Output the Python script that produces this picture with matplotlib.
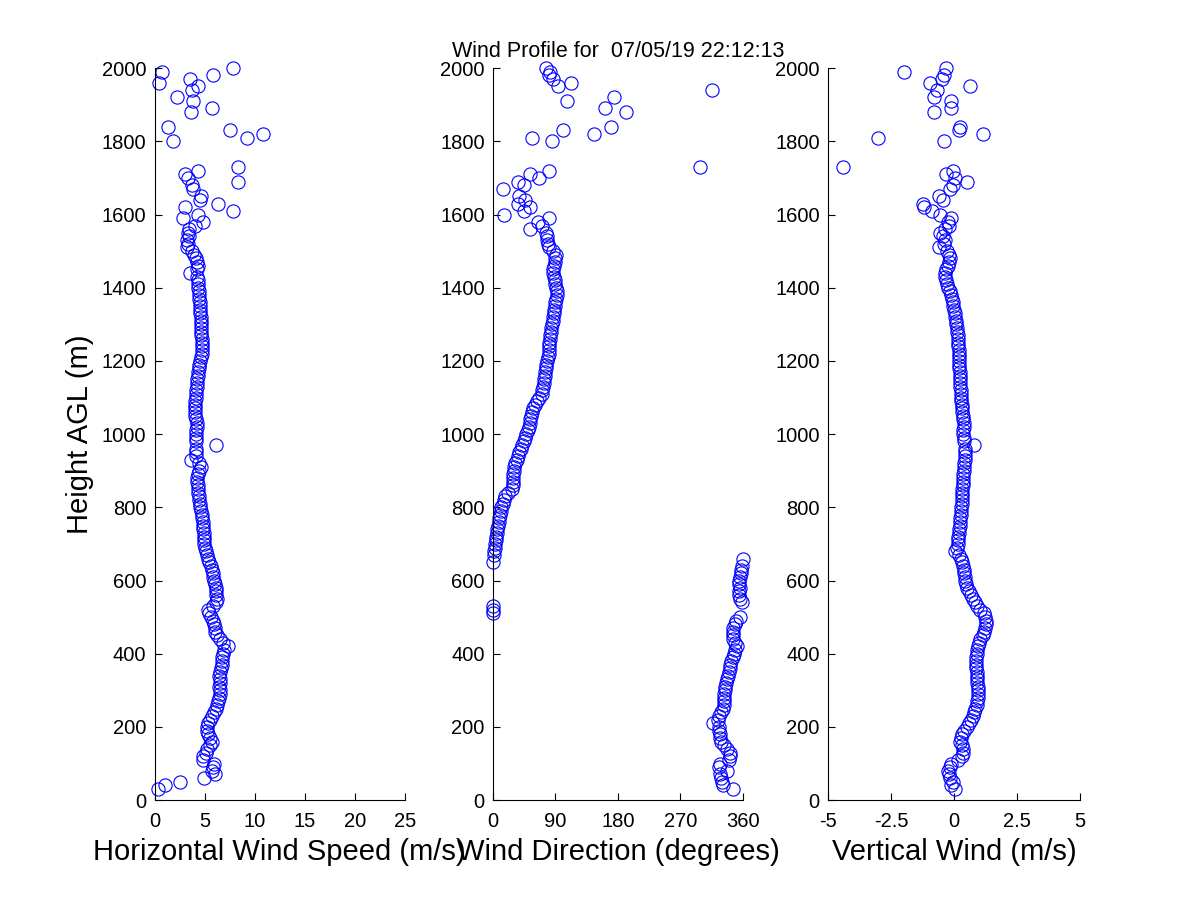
import matplotlib
matplotlib.use("Agg")
import matplotlib.pyplot as plt

plt.rcParams['font.family'] = ['Liberation Sans', 'DejaVu Sans']

# heights (m AGL) of the valid range gates
height = [30, 40, 50, 60, 70, 80, 90, 100, 110, 120,
          130, 140, 150, 160, 170, 180, 190, 200, 210, 220,
          230, 240, 250, 260, 270, 280, 290, 300, 310, 320,
          330, 340, 350, 360, 370, 380, 390, 400, 410, 420,
          430, 440, 450, 460, 470, 480, 490, 500, 510, 520,
          530, 540, 550, 560, 570, 580, 590, 600, 610, 620,
          630, 640, 650, 660, 670, 680, 690, 700, 710, 720,
          730, 740, 750, 760, 770, 780, 790, 800, 810, 820,
          830, 840, 850, 860, 870, 880, 890, 900, 910, 920,
          930, 940, 950, 960, 970, 980, 990, 1000, 1010, 1020,
          1030, 1040, 1050, 1060, 1070, 1080, 1090, 1100, 1110, 1120,
          1130, 1140, 1150, 1160, 1170, 1180, 1190, 1200, 1210, 1220,
          1230, 1240, 1250, 1260, 1270, 1280, 1290, 1300, 1310, 1320,
          1330, 1340, 1350, 1360, 1370, 1380, 1390, 1400, 1410, 1420,
          1430, 1440, 1450, 1460, 1470, 1480, 1490, 1500,
          1510, 1520, 1530, 1540, 1550, 1560, 1570, 1580, 1590, 1600,
          1610, 1620, 1630, 1640, 1650, 1670, 1680, 1690, 1700, 1710, 1720, 1730,
          1800, 1810, 1820, 1830, 1840, 1880, 1890, 1910, 1920, 1940,
          1950, 1960, 1970, 1980, 1990, 2000]

# horizontal wind speed (m/s)
speed = [0.3, 1.0, 2.5, 4.9, 6.0, 5.7, 5.8, 5.9, 4.8, 4.8,
         5.1, 5.2, 5.5, 5.7, 5.5, 5.3, 5.2, 5.2, 5.3, 5.5,
         5.7, 5.9, 6.1, 6.2, 6.3, 6.4, 6.5, 6.5, 6.4, 6.5,
         6.5, 6.4, 6.5, 6.6, 6.7, 6.7, 6.7, 6.8, 6.9, 7.3,
         6.8, 6.5, 6.2, 6.0, 6.0, 5.9, 5.8, 5.6, 5.4, 5.3,
         5.8, 6.1, 6.2, 6.1, 6.1, 6.1, 6.0, 5.9, 5.8, 5.8,
         5.7, 5.6, 5.4, 5.3, 5.2, 5.1, 5.0, 4.9, 4.9, 4.9,
         4.9, 4.8, 4.8, 4.8, 4.7, 4.7, 4.6, 4.5, 4.5, 4.4,
         4.4, 4.3, 4.3, 4.3, 4.2, 4.2, 4.3, 4.4, 4.6, 4.4,
         3.6, 4.1, 4.1, 4.1, 6.1, 4.1, 4.1, 4.1, 4.1, 4.2,
         4.2, 4.1, 4.0, 4.0, 4.0, 4.0, 4.0, 4.1, 4.1, 4.1,
         4.2, 4.2, 4.2, 4.3, 4.3, 4.4, 4.4, 4.5, 4.6, 4.7,
         4.7, 4.7, 4.7, 4.7, 4.6, 4.6, 4.6, 4.6, 4.6, 4.6,
         4.5, 4.5, 4.5, 4.5, 4.4, 4.4, 4.4, 4.3, 4.3, 4.3,
         4.2, 3.5, 4.2, 4.3, 4.2, 4.1, 3.9, 3.7,
         3.2, 3.3, 3.2, 3.4, 3.3, 3.4, 4.0, 4.8, 2.8, 4.3,
         7.8, 3.0, 6.3, 4.5, 4.6, 3.8, 3.7, 8.3, 3.3, 3.0, 4.3, 8.3,
         1.8, 9.2, 10.8, 7.5, 1.3, 3.6, 5.7, 3.8, 2.2, 3.7,
         4.3, 0.4, 3.5, 5.8, 0.7, 7.8]

# wind direction (degrees)
direction = [346, 332, 330, 329, 327, 337, 326, 327, 340, 341,
             341, 337, 333, 328, 327, 327, 326, 325, 317, 324,
             325, 328, 331, 333, 333, 333, 333, 334, 334, 335,
             337, 339, 340, 341, 342, 343, 345, 347, 349, 351,
             348, 346, 345, 345, 346, 348, 350, 356, 0.5, 0.5,
             0.5, 359, 356, 355, 355, 356, 355, 355, 356, 357,
             357, 358, 0.5, 359.5, 1, 1.5, 2.5, 3, 4, 5,
             5.5, 6.5, 7, 8, 9, 10, 11, 12, 14, 16,
             18, 22, 28, 29, 29, 29, 29, 30, 30, 32,
             34, 36, 38, 40, 42, 44, 46, 48, 50, 52,
             53, 54, 55, 56, 58, 60, 64, 67, 70, 71,
             72, 73, 74, 75, 75, 76, 77, 78, 79, 80,
             80, 81, 81, 82, 82, 83, 84, 85, 86, 87,
             88, 88, 89, 90, 91, 92, 92, 91, 90, 89,
             88, 87, 87, 88, 89, 90, 91, 87,
             80, 79, 78, 78, 76, 53, 70, 65, 80, 16,
             45, 53, 36, 46, 38, 14, 44, 36, 67, 54, 80, 298,
             85, 56, 145, 101, 170, 191, 161, 106, 175, 316,
             94, 113, 86, 80, 82, 76]

# vertical wind (m/s)
vertical = [0.04, -0.1, -0.05, -0.16, -0.2, -0.22, -0.15, -0.1, 0.15, 0.3,
            0.35, 0.37, 0.3, 0.24, 0.27, 0.3, 0.4, 0.5, 0.58, 0.67,
            0.74, 0.8, 0.85, 0.9, 0.92, 0.95, 0.96, 0.96, 0.94, 0.92,
            0.91, 0.9, 0.9, 0.88, 0.86, 0.87, 0.88, 0.9, 0.93, 0.97,
            1.0, 1.05, 1.14, 1.18, 1.23, 1.25, 1.25, 1.24, 1.2, 1.03,
            0.92, 0.83, 0.76, 0.68, 0.6, 0.53, 0.48, 0.44, 0.42, 0.4,
            0.38, 0.36, 0.32, 0.26, 0.18, 0.04, 0.12, 0.17, 0.17, 0.17,
            0.18, 0.2, 0.22, 0.24, 0.25, 0.26, 0.27, 0.28, 0.3, 0.3,
            0.31, 0.32, 0.33, 0.35, 0.35, 0.36, 0.37, 0.38, 0.4, 0.41,
            0.42, 0.44, 0.44, 0.42, 0.8, 0.4, 0.38, 0.37, 0.37, 0.38,
            0.38, 0.36, 0.34, 0.32, 0.31, 0.3, 0.29, 0.28, 0.27, 0.26,
            0.25, 0.24, 0.23, 0.22, 0.22, 0.21, 0.21, 0.2, 0.19, 0.18,
            0.18, 0.17, 0.16, 0.15, 0.14, 0.12, 0.1, 0.08, 0.06, 0.04,
            0.02, 0.0, -0.02, -0.04, -0.07, -0.11, -0.16, -0.22, -0.27, -0.3,
            -0.34, -0.36, -0.3, -0.24, -0.2, -0.16, -0.2, -0.29,
            -0.58, -0.4, -0.36, -0.45, -0.56, -0.35, -0.2, -0.22, -0.1, -0.56,
            -0.88, -1.2, -1.24, -0.42, -0.6, -0.16, -0.03, 0.5, 0.04, -0.3, -0.03, -4.42,
            -0.4, -3.0, 1.16, 0.21, 0.25, -0.8, -0.1, -0.13, -0.8, -0.66,
            0.63, -0.95, -0.49, -0.4, -2.0, -0.3]

speed_ticks = [0, 5, 10, 15, 20, 25]
dir_ticks = [0, 90, 180, 270, 360]
vert_ticks = [-5, -2.5, 0, 2.5, 5]
vert_labels = ['-5', '-2.5', '0', '2.5', '5']
height_ticks = list(range(0, 2001, 200))

fig = plt.figure(figsize=(12, 9), dpi=100)

panels = [
    ([0.129, 0.111, 0.2083, 0.8133], speed, (0, 25), speed_ticks, None,
     'Horizontal Wind Speed (m/s)'),
    ([0.4108, 0.111, 0.2083, 0.8133], direction, (0, 360), dir_ticks, None,
     'Wind Direction (degrees)'),
    ([0.69, 0.111, 0.21, 0.8133], vertical, (-5, 5), vert_ticks, vert_labels,
     'Vertical Wind (m/s)'),
]

axes = []
for rect, vals, xlim, xt, xtl, xlabel in panels:
    ax = fig.add_axes(rect)
    ax.plot(vals, height, linestyle='none', marker='o', markersize=9.5,
            markerfacecolor='none', markeredgecolor='#0000ff',
            markeredgewidth=0.8, clip_on=False)
    ax.set_xlim(*xlim)
    ax.set_ylim(0, 2000)
    ax.set_xticks(xt)
    if xtl:
        ax.set_xticklabels(xtl)
    ax.set_yticks(height_ticks)
    ax.spines['top'].set_visible(False)
    ax.spines['right'].set_visible(False)
    ax.tick_params(direction='in', length=5, width=0.8, labelsize=14.5)
    ax.tick_params(axis='x', pad=8.5)
    ax.tick_params(axis='y', pad=6)
    ax.set_xlabel(xlabel, fontsize=21, labelpad=5)
    axes.append(ax)

axes[0].set_ylabel('Height AGL (m)', fontsize=21, labelpad=6)
axes[1].set_title('Wind Profile for  07/05/19 22:12:13', fontsize=15.5, pad=8)

fig.savefig('out.png', dpi=100)
